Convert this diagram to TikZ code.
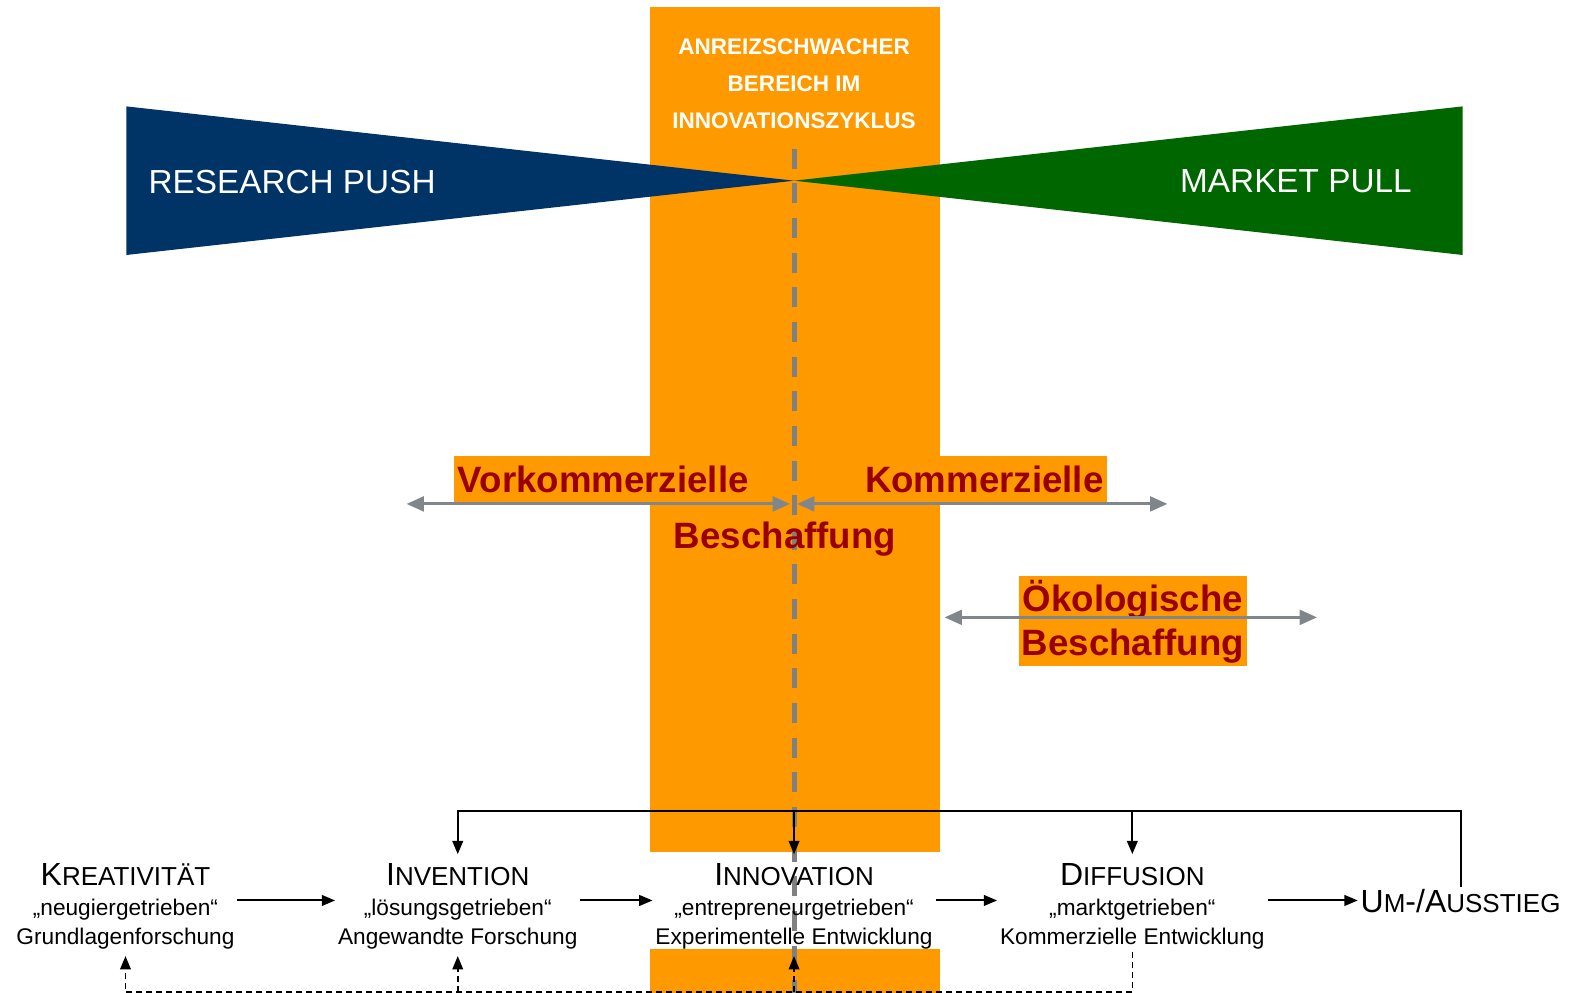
\documentclass[tikz,border=0pt]{standalone}
\usepackage{fontspec}
\setmainfont{Liberation Sans}
\usetikzlibrary{positioning}
\usetikzlibrary{arrows.meta}

\definecolor{bandorange}{RGB}{255,153,0}
\definecolor{pushblue}{RGB}{0,51,102}
\definecolor{pullgreen}{RGB}{0,102,0}
\definecolor{procred}{RGB}{153,0,0}
\definecolor{rangegray}{RGB}{128,134,140}
\definecolor{midgray}{RGB}{128,128,128}

\newcommand{\capsc}[2]{{\fontsize{24}{22}\selectfont #1}{\fontsize{19.5}{22}\selectfont #2}}

\begin{document}
\begin{tikzpicture}[x=0.753pt,y=-0.753pt,>={Triangle[length=10pt,width=8pt]},
  every node/.style={inner sep=2pt},
  stage/.style={align=center,font=\fontsize{17}{22}\selectfont},
  proc/.style={text=procred,font=\fontsize{27.5}{33}\selectfont\bfseries},
  flow/.style={->,line width=1.5pt},
  back/.style={->,line width=1.2pt,dash pattern=on 4.5pt off 3pt},
  spanarrow/.style={{Triangle[length=13pt,width=11pt]}-{Triangle[length=13pt,width=11pt]},line width=2.25pt,draw=rangegray}]
	    \useasboundingbox (0,0) rectangle (1568,989);
	    % the band
		    \fill[bandorange] (648,7) rectangle (936,849);
		    \fill[bandorange] (648,945) rectangle (936,989);
		    \node[white,align=center,font=\fontsize{16.9}{27.75}\selectfont\bfseries] (band) at (791,83) {ANREIZSCHWACHER\\BEREICH IM\\INNOVATIONSZYKLUS};
	    % push and pull
		    \fill[pushblue] (126,106) -- (791,180) -- (126,254) -- cycle;
		    \fill[pullgreen] (1457,106) -- (791,180) -- (1457,254) -- cycle;
		    \node[white,font=\fontsize{25}{30}\selectfont] (push) at (291,181) {RESEARCH PUSH};
		    \node[white,font=\fontsize{25}{30}\selectfont] (pull) at (1291,181) {MARKET PULL};
		    \draw[midgray,line width=3.75pt,dash pattern=on 15pt off 11pt] (791,148) -- (791,989);
	    % procurement
		    \node[proc,fill=bandorange,minimum width=223.5pt,minimum height=35.25pt] (vk) at (601,478) {Vorkommerzielle};
		    \node[proc,fill=bandorange,minimum width=183.75pt,minimum height=35.25pt] (km) at (980.5,478) {Kommerzielle};
		    \node[proc] (bs) at (782,537) {Beschaffung};
		    \node[proc,fill=bandorange,align=center,minimum width=168.75pt,minimum height=67.5pt] (ok) at (1128.5,619) {Ökologische\\Beschaffung};
		    \coordinate (v1) at (405,502);
		    \coordinate (v2) at (787,502);
		    \coordinate (k1) at (794,502);
		    \coordinate (k2) at (1163,502);
		    \coordinate (o1) at (941,615);
		    \coordinate (o2) at (1312,615);
		    \draw[spanarrow] (v1) -- (v2);
		    \draw[spanarrow] (k1) -- (k2);
		    \draw[spanarrow] (o1) -- (o2);
	    % create the nodes
		    \node[stage] (c1) at (125,903) {\capsc{K}{REATIVITÄT}\\„neugiergetrieben“\\Grundlagenforschung};
		    \node[stage] (c2) at (456,903) {\capsc{I}{NVENTION}\\„lösungsgetrieben“\\Angewandte Forschung};
		    \node[stage] (c3) at (791,903) {\capsc{I}{NNOVATION}\\„entrepreneurgetrieben“\\Experimentelle Entwicklung};
		    \node[stage] (c4) at (1128,903) {\capsc{D}{IFFUSION}\\„marktgetrieben“\\Kommerzielle Entwicklung};
		    \node[stage] (c5) at (1455,898) {\capsc{U}{M}{\fontsize{24}{22}\selectfont -/}\capsc{A}{USSTIEG}};
		    \draw[flow] ([yshift=4.5pt]c1.east) -- ([yshift=4.5pt]c2.west);
		    \draw[flow] ([yshift=4.5pt]c2.east) -- ([yshift=4.5pt]c3.west);
		    \draw[flow] ([yshift=4.5pt]c3.east) -- ([yshift=4.5pt]c4.west);
		    \draw[flow] ([yshift=4.5pt]c4.east) -- ([yshift=4.5pt]c4.east -| c5.west);
	    % feedback
		    \coordinate (top) at (0,808);
		    \coordinate (bot) at (0,988);
		    \draw[flow,shorten >=5pt] (c5.north) -- (c5.north |- top) -| (c2.north);
		    \draw[flow,shorten >=5pt] (c3.north |- top) -- (c3.north);
		    \draw[flow,shorten >=5pt] (c4.north |- top) -- (c4.north);
		    \draw[back,shorten >=3pt] (c4.south) -- (c4.south |- bot) -| (c1.south);
		    \draw[back,shorten >=3pt] (c2.south |- bot) -- (c2.south);
		    \draw[back,shorten >=3pt] (c3.south |- bot) -- (c3.south);
		\end{tikzpicture}
\end{document}
